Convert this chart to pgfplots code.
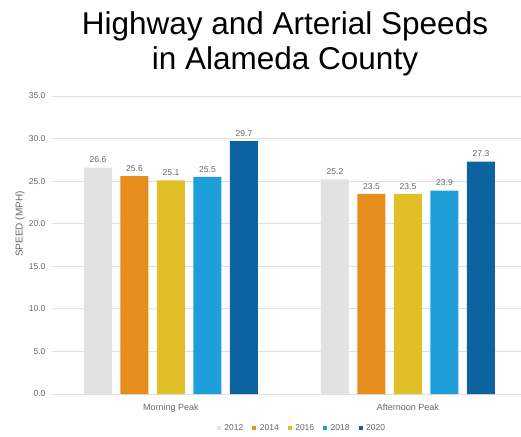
\documentclass[border=0pt]{standalone}
\usepackage{fontspec}
\setmainfont{Liberation Sans}
\usepackage{pgfplots}
\pgfplotsset{compat=1.18}
\definecolor{c2012}{HTML}{E2E2E2}
\definecolor{c2014}{HTML}{E58E1E}
\definecolor{c2016}{HTML}{E0C026}
\definecolor{c2018}{HTML}{1E9FD9}
\definecolor{c2020}{HTML}{0D62A0}
\definecolor{txt}{HTML}{666666}
\begin{document}
\begin{tikzpicture}[x=1pt,y=1pt]
\path[use as bounding box] (0,0) rectangle (521,436);
\node[anchor=base,font=\fontsize{31.5}{36}\selectfont] at (285,401) {Highway and Arterial Speeds};
\node[anchor=base,font=\fontsize{31.5}{36}\selectfont] at (285,366) {in Alameda County};
\begin{axis}[
  at={(52pt,42pt)}, anchor=south west,
  scale only axis, width=469pt, height=298pt,
  ymin=0, ymax=35, xmin=-0.502, xmax=1.477,
  axis line style={draw=none},
  ymajorgrids, grid style={color=black!12, line width=0.8pt},
  ytick={0,5,...,35},
  xtick={0,1}, xticklabels={Morning Peak, Afternoon Peak},
  major tick length=0pt,
  /pgf/number format/assume math mode=true,
  yticklabel={\pgfmathprintnumber[fixed,fixed zerofill,precision=1]{\tick}},
  tick label style={font=\fontsize{8.5}{10}\selectfont, text=txt},
  yticklabel style={xshift=-3pt},
  xticklabel style={font=\fontsize{9}{10}\selectfont, text=txt, yshift=-6pt},
  ylabel={SPEED (MPH)},
  ylabel style={at={(rel axis cs:-0.068,0.57)}, anchor=center, font=\fontsize{10}{12}\selectfont, text=txt},
  ybar=8.5pt, bar width=28pt,
  nodes near coords,
  every node near coord/.append style={font=\fontsize{8.5}{10}\selectfont, text=txt, /pgf/number format/fixed, /pgf/number format/fixed zerofill, /pgf/number format/precision=1, /pgf/number format/assume math mode=true, yshift=1pt},
  legend columns=5,
  legend style={draw=none, at={(rel axis cs:0.533,-0.114)}, anchor=center, font=\fontsize{8.5}{10}\selectfont, text=txt, /tikz/every even column/.append style={column sep=7pt}, /tikz/every odd column/.append style={column sep=1.5pt}},
  legend image code/.code={\fill[#1] (0pt,-2pt) rectangle (4pt,2pt);},
]
\addplot[fill=c2012, draw=none] coordinates {(0,26.6) (1,25.2)};
\addplot[fill=c2014, draw=none] coordinates {(0,25.6) (1,23.5)};
\addplot[fill=c2016, draw=none] coordinates {(0,25.1) (1,23.5)};
\addplot[fill=c2018, draw=none] coordinates {(0,25.5) (1,23.9)};
\addplot[fill=c2020, draw=none] coordinates {(0,29.7) (1,27.3)};
\legend{2012,2014,2016,2018,2020}
\end{axis}
\end{tikzpicture}
\end{document}
